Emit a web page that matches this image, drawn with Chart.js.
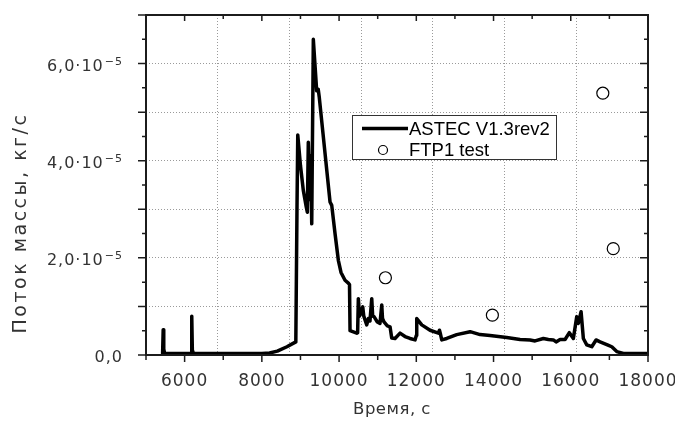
<!DOCTYPE html>
<html>
<head>
<meta charset="utf-8">
<script src="https://cdn.jsdelivr.net/npm/chart.js@4/dist/chart.umd.min.js"></script>
<style>
  html, body { margin: 0; padding: 0; background: #fff; }
  #wrap { width: 675px; height: 425px; }
</style>
</head>
<body>
<div id="wrap"><canvas id="flowChart" width="675" height="425"></canvas></div>
<script>
// ASTEC V1.3rev2 calculation: time, s / mass flow, 1e-5 kg/s
const calcTime = [5430, 5445, 5460, 5480, 5520, 6170, 6185, 6200, 6230, 7000, 8000, 8200, 8400, 8650, 8880,
  8910, 8930, 9000, 9074, 9150, 9178, 9203, 9240, 9262, 9292, 9333, 9420, 9460, 9488,
  9766, 9810, 9895, 9981, 10050, 10154, 10240, 10270, 10284, 10457, 10480, 10499, 10530, 10561,
  10613, 10640, 10716, 10760, 10800, 10846, 10870, 10905, 10991, 11060, 11105, 11125, 11164,
  11250, 11320, 11363, 11449, 11579, 11708, 11838, 11967, 12000, 12011, 12141, 12356, 12571,
  12600, 12620, 12659, 12788, 13047, 13392, 13651, 13910, 14342, 14687, 14946, 15075, 15290,
  15420, 15549, 15619, 15723, 15852, 15963, 16067, 16155, 16196, 16267, 16326, 16414, 16544,
  16655, 16759, 16948, 17062, 17191, 17363, 17492, 18000];
const calcFlow = [0.03, 0.52, 0.12, 0.04, 0.03, 0.03, 0.80, 0.10, 0.03, 0.03, 0.03, 0.04, 0.08, 0.17, 0.27,
  3.00, 4.53, 3.90, 3.39, 3.05, 2.94, 4.38, 3.20, 4.10, 2.70, 6.50, 5.44, 5.47, 5.30,
  3.15, 3.08, 2.50, 1.95, 1.70, 1.54, 1.48, 1.45, 0.50, 0.45, 0.46, 1.16, 0.80, 0.86,
  0.99, 0.80, 0.62, 0.75, 0.70, 1.16, 0.80, 0.79, 0.68, 0.65, 1.03, 0.75, 0.68,
  0.60, 0.58, 0.35, 0.34, 0.45, 0.38, 0.34, 0.31, 0.40, 0.75, 0.62, 0.51, 0.45,
  0.51, 0.45, 0.31, 0.34, 0.42, 0.48, 0.42, 0.40, 0.36, 0.32, 0.31, 0.29, 0.34,
  0.32, 0.31, 0.27, 0.32, 0.32, 0.46, 0.34, 0.79, 0.65, 0.89, 0.34, 0.21, 0.17,
  0.31, 0.27, 0.21, 0.17, 0.07, 0.03, 0.03, 0.03];

// FTP1 test measurements
const testTime = [11200, 13970, 16830, 17100];
const testFlow = [1.59, 0.82, 5.39, 2.19];

const SCALE = 1e-5;
const xLabels = [6000, 8000, 10000, 12000, 14000, 16000, 18000];
const yLabelValues = [0, 2, 4, 6];
const yLabelText = ['0,0', '2,0', '4,0', '6,0'];

const INK = '#1c1c1c';
const TEXT = '#333';

const toPoints = (xs, ys) => xs.map((t, i) => ({ x: t, y: ys[i] * SCALE }));

const hideEdges = c => (c.index === 0 || c.index === c.scale.ticks.length - 1) ? 'rgba(0,0,0,0)' : '#9a9a9a';

// frame, tick marks, tick labels, axis titles
const axesPlugin = {
  id: 'axesPlugin',
  afterDraw(chart) {
    const { ctx, chartArea: a, scales: { x, y } } = chart;
    ctx.save();
    ctx.strokeStyle = INK;
    ctx.lineWidth = 2;
    ctx.strokeRect(a.left, a.top, a.right - a.left, a.bottom - a.top);

    ctx.lineWidth = 1.5;
    ctx.beginPath();
    for (let v = x.min; v <= x.max; v += 1000) {
      const px = x.getPixelForValue(v);
      const len = v % 2000 === 0 ? 7 : 5;
      ctx.moveTo(px, a.bottom); ctx.lineTo(px, a.bottom + len);
      ctx.moveTo(px, a.top); ctx.lineTo(px, a.top + len - 1);
    }
    for (let k = 0; k <= 14; k++) {
      const py = y.getPixelForValue(k * 0.5 * SCALE);
      const len = k % 2 === 0 ? 8 : 4;
      ctx.moveTo(a.left, py); ctx.lineTo(a.left - len, py);
      ctx.moveTo(a.right, py); ctx.lineTo(a.right - len, py);
    }
    ctx.stroke();

    ctx.fillStyle = TEXT;
    ctx.font = '17px "DejaVu Sans"';
    ctx.letterSpacing = '1px';
    ctx.textAlign = 'center';
    ctx.textBaseline = 'middle';
    xLabels.forEach(v => ctx.fillText(String(v), x.getPixelForValue(v), 382));

    ctx.textAlign = 'right';
    ctx.textBaseline = 'alphabetic';
    const labelRight = a.left - 23;
    yLabelValues.forEach((v, i) => {
      const py = y.getPixelForValue(v * SCALE);
      if (v === 0) {
        ctx.font = '16px "DejaVu Sans"';
        ctx.fillText(yLabelText[i], labelRight, py + 7);
        return;
      }
      ctx.font = '11px "DejaVu Sans"';
      const sup = '\u22125';
      const supW = ctx.measureText(sup).width;
      ctx.fillText(sup, labelRight, py + 1);
      ctx.font = '16px "DejaVu Sans"';
      ctx.fillText(yLabelText[i] + '\u00b710', labelRight - supW - 1, py + 7);
    });

    ctx.textAlign = 'center';
    ctx.textBaseline = 'middle';
    ctx.font = '16.5px "DejaVu Sans"';
    ctx.letterSpacing = '0.5px';
    ctx.fillText('Время, с', (a.left + a.right) / 2 - 5, 410);

    ctx.save();
    ctx.translate(21, 223);
    ctx.rotate(-Math.PI / 2);
    ctx.font = '19px "DejaVu Sans"';
    ctx.letterSpacing = '2.5px';
    ctx.fillText('Поток массы, кг/с', 0, 0);
    ctx.restore();
    ctx.letterSpacing = '0px';
    ctx.restore();
  }
};

// boxed legend inside the plot
const legendPlugin = {
  id: 'legendPlugin',
  afterDraw(chart) {
    const { ctx } = chart;
    const [calc, test] = chart.data.datasets;
    ctx.save();
    ctx.fillStyle = '#fff';
    ctx.fillRect(352, 115, 205, 45);
    ctx.strokeStyle = '#333';
    ctx.lineWidth = 1;
    ctx.strokeRect(352.5, 115.5, 204, 44);

    ctx.strokeStyle = calc.borderColor;
    ctx.lineWidth = calc.borderWidth;
    ctx.beginPath();
    ctx.moveTo(362, 128.5); ctx.lineTo(408, 128.5);
    ctx.stroke();

    ctx.lineWidth = 1.2;
    ctx.strokeStyle = test.borderColor;
    ctx.beginPath();
    ctx.arc(383, 150, 4.5, 0, Math.PI * 2);
    ctx.stroke();

    ctx.fillStyle = '#000';
    ctx.font = '18.5px "Liberation Sans"';
    ctx.textAlign = 'left';
    ctx.textBaseline = 'middle';
    ctx.fillText(calc.label, 409, 129.5);
    ctx.fillText(test.label, 409, 150.5);
    ctx.restore();
  }
};

new Chart(document.getElementById('flowChart'), {
  type: 'scatter',
  data: {
    datasets: [
      {
        label: 'ASTEC V1.3rev2',
        data: toPoints(calcTime, calcFlow),
        showLine: true,
        borderColor: '#000',
        borderWidth: 3.5,
        borderJoinStyle: 'round',
        borderCapStyle: 'round',
        pointRadius: 0,
        tension: 0
      },
      {
        label: 'FTP1 test',
        data: toPoints(testTime, testFlow),
        showLine: false,
        pointStyle: 'circle',
        pointRadius: 6,
        borderColor: '#000',
        borderWidth: 1.2,
        backgroundColor: 'rgba(0,0,0,0)'
      }
    ]
  },
  options: {
    responsive: false,
    animation: false,
    devicePixelRatio: 1,
    layout: { padding: { left: 146, right: 27, top: 15, bottom: 70 } },
    plugins: { legend: { display: false }, tooltip: { enabled: false } },
    scales: {
      x: {
        type: 'linear',
        min: 5000,
        max: 18000,
        ticks: { display: false, stepSize: 2000 },
        grid: { color: hideEdges, lineWidth: 1, drawTicks: false },
        border: { display: false, dash: [1, 2] }
      },
      y: {
        min: 0,
        max: 7 * SCALE,
        ticks: { display: false, stepSize: SCALE },
        grid: { color: hideEdges, lineWidth: 1, drawTicks: false },
        border: { display: false, dash: [1, 2] }
      }
    }
  },
  plugins: [axesPlugin, legendPlugin]
});
</script>
</body>
</html>
